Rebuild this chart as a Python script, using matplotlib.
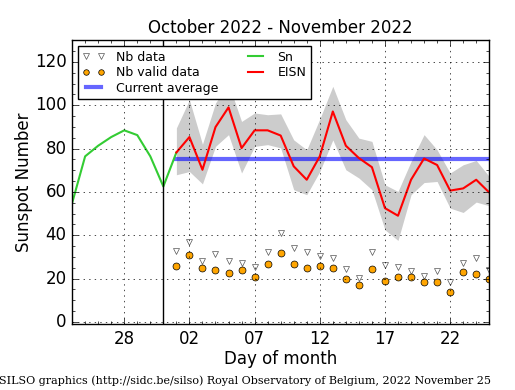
import pandas as pd
import matplotlib
matplotlib.use('Agg')
import matplotlib.pyplot as plt
import matplotlib.dates as mdates

plt.style.use('classic')

# daily sunspot number (Sn), end of october
sn_days = pd.date_range('2022-10-24', '2022-11-01')
sn_values = [54.8, 76.4, 81.3, 85.3, 88.4, 86.2, 76.4, 62.5, 78.2]

# estimated international sunspot number (EISN) for november
days = pd.date_range('2022-11-01', '2022-11-25')
eisn = [78.2, 85.3, 70.2, 89.9, 99.0, 80.2, 88.4, 88.4, 86.0, 71.8, 65.6, 76.4, 97.1,
        81.3, 75.6, 71.4, 52.5, 49.0, 65.6, 75.4, 72.4, 60.6, 61.6, 65.6, 59.7]
eisn_upper = [89.5, 102.5, 82.0, 101.0, 110.0, 92.5, 96.4, 95.6, 96.0, 84.0, 79.4, 93.6, 108.7,
              93.3, 84.8, 83.3, 63.3, 60.2, 74.0, 86.4, 79.4, 68.7, 72.5, 74.5, 67.1]
eisn_lower = [67.9, 69.4, 63.7, 81.0, 86.4, 68.7, 81.0, 81.8, 80.3, 61.0, 58.7, 69.4, 84.0,
              70.2, 66.4, 61.0, 42.5, 37.6, 58.7, 64.3, 64.8, 52.5, 50.5, 55.3, 53.6]
nb_data = [32.9, 37.1, 28.0, 31.3, 28.0, 27.1, 25.3, 32.2, 41.0, 34.0, 32.2, 30.5, 29.4,
           24.3, 20.3, 32.2, 26.3, 25.3, 23.4, 21.2, 23.4, 18.5, 27.1, 29.4, 24.0]
nb_valid = [26.0, 31.1, 25.1, 24.0, 22.5, 24.0, 20.9, 26.9, 32.0, 26.9, 25.1, 26.0, 25.1,
            19.9, 17.2, 24.2, 18.9, 20.9, 20.9, 18.2, 18.2, 14.0, 23.2, 22.3, 20.0]
current_average = 75.0

fig = plt.figure(figsize=(5.15, 3.9), dpi=100)
ax = fig.add_axes([0.14, 0.169, 0.81, 0.728])

ax.fill_between(days, eisn_lower, eisn_upper, color='#cccccc', linewidth=0)
ax.plot(days, nb_data, linestyle='none', marker='v', markersize=5,
        markerfacecolor='white', markeredgecolor='#555555', label='Nb data')
ax.plot(days, nb_valid, linestyle='none', marker='o', markersize=5,
        markerfacecolor='orange', markeredgecolor='black', label='Nb valid data')
ax.plot([days[0], days[-1]], [current_average, current_average], color='blue',
        linewidth=3, alpha=0.6, label='Current average')
ax.plot(sn_days, sn_values, color='#33cc33', linewidth=1.5, label='Sn')
ax.plot(days, eisn, color='red', linewidth=1.5, label='EISN')
ax.axvline(pd.Timestamp('2022-10-31'), color='black', linewidth=1)

ax.set_xlim(pd.Timestamp('2022-10-24'), pd.Timestamp('2022-11-25'))
ax.set_ylim(-1, 130)
ax.set_xticks(pd.to_datetime(['2022-10-28', '2022-11-02', '2022-11-07',
                              '2022-11-12', '2022-11-17', '2022-11-22']))
ax.xaxis.set_major_formatter(mdates.DateFormatter('%d'))
ax.xaxis.set_minor_locator(mdates.DayLocator())
ax.set_yticks([0, 20, 40, 60, 80, 100, 120])
ax.yaxis.set_minor_locator(plt.MultipleLocator(5))
ax.grid(True, color='black', linestyle=':')

ax.set_title('October 2022 - November 2022', fontsize=12)
ax.set_xlabel('Day of month', fontsize=12, labelpad=2)
ax.set_ylabel('Sunspot Number', fontsize=12, labelpad=1)
ax.tick_params(labelsize=12)

ax.legend(loc='upper left', ncol=2, numpoints=2, fontsize=9, markerscale=0.8,
          labelspacing=0.2, borderpad=0.35, handlelength=1.8, handletextpad=0.9,
          columnspacing=2.0)

fig.text(-0.002, 0.015, 'SILSO graphics (http://sidc.be/silso) Royal Observatory of Belgium, 2022 November 25',
         ha='left', family='DejaVu Serif', fontsize=8)

fig.savefig('out.png', dpi=100)
